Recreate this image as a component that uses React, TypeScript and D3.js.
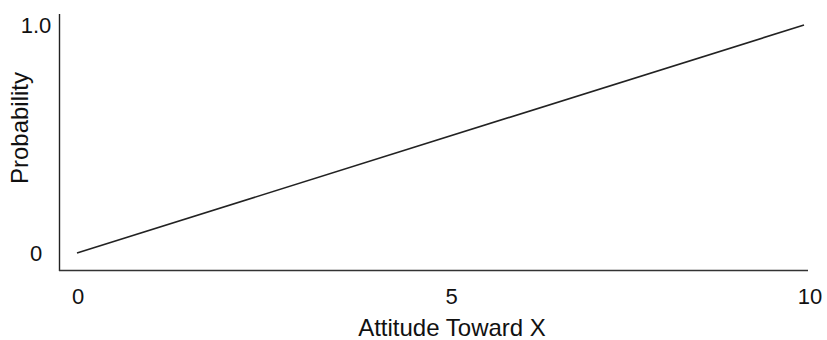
import React from "react";
import * as d3 from "d3";

const attitude = [0, 10];
const probability = [0, 1];
const xTicks = [0, 5, 10];
const yTicks = [0, 1];
const yTickLabels = ["0", "1.0"];
const xTitle = "Attitude Toward X";
const yTitle = "Probability";

const W = 827;
const H = 340;

export default function App() {
  const x = d3.scaleLinear().domain([0, 10]).range([77, 804]);
  const xLab = d3.scaleLinear().domain([0, 5, 10]).range([78, 451.5, 810]);
  const y = d3.scaleLinear().domain([0, 1]).range([253, 25]);
  const pts = attitude.map((a, i) => [a, probability[i]] as [number, number]);
  const line = d3
    .line<[number, number]>()
    .x((d) => x(d[0]))
    .y((d) => y(d[1]));
  const font = "'Liberation Sans', Arial, Helvetica, sans-serif";
  return (
    <svg
      width={W}
      height={H}
      style={{ position: "absolute", left: 0, top: 0, background: "#fff" }}
      fontFamily={font}
    >
      <line x1={59.5} x2={59.5} y1={14} y2={271} stroke="#222" strokeWidth={1.4} />
      <line x1={59} x2={808} y1={270.5} y2={270.5} stroke="#333" strokeWidth={1.4} />
      <path d={line(pts) || ""} fill="none" stroke="#222" strokeWidth={1.6} />
      {yTicks.map((t, i) => (
        <text
          key={"y" + t}
          x={36}
          y={y(t)}
          dy="0.36em"
          textAnchor="middle"
          fontSize={22}
          fill="#111"
        >
          {yTickLabels[i]}
        </text>
      ))}
      {xTicks.map((t) => (
        <text
          key={"x" + t}
          x={xLab(t)}
          y={304}
          textAnchor="middle"
          fontSize={22}
          fill="#111"
        >
          {t}
        </text>
      ))}
      <text x={452} y={336} textAnchor="middle" fontSize={24} fill="#111">
        {xTitle}
      </text>
      <text
        transform="translate(28,128) rotate(-90)"
        textAnchor="middle"
        fontSize={24}
        fill="#111"
      >
        {yTitle}
      </text>
    </svg>
  );
}
